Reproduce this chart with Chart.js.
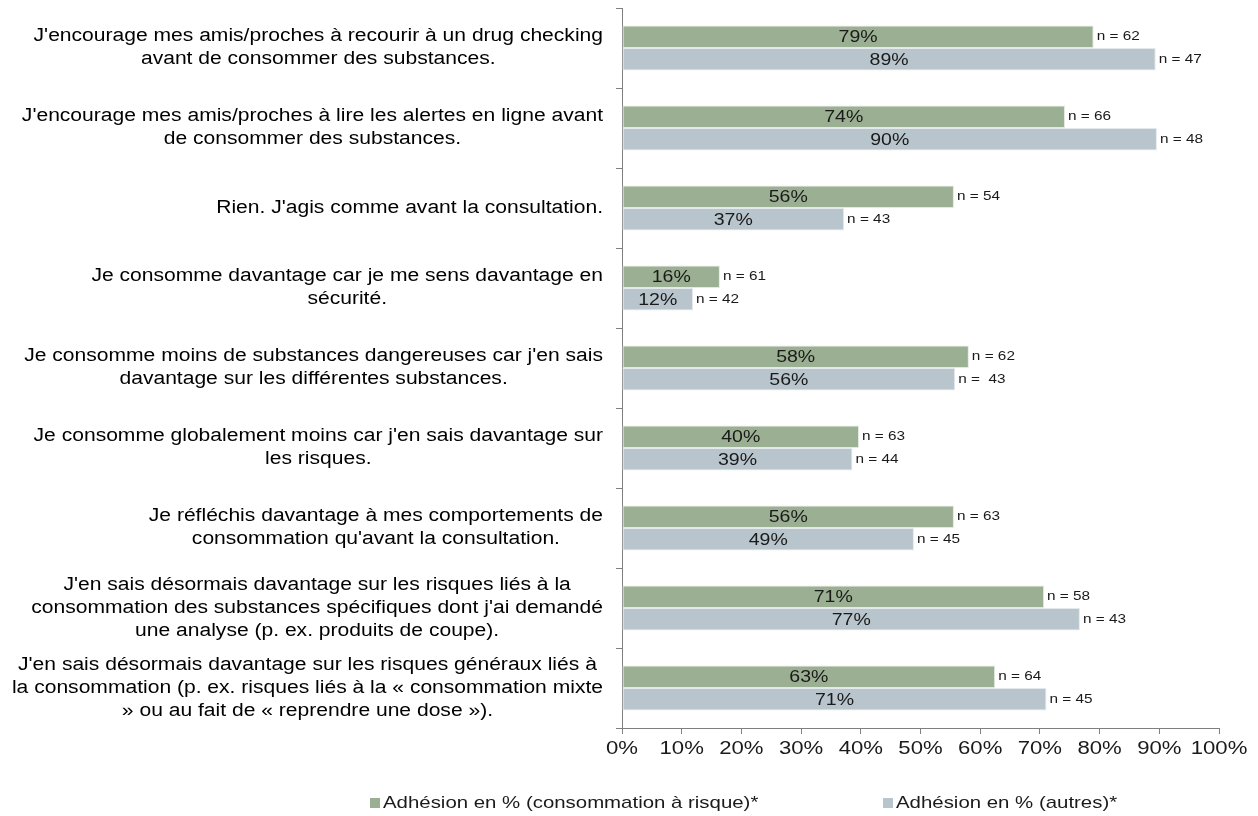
<!DOCTYPE html>
<html>
<head>
<meta charset="utf-8">
<script src="https://cdn.jsdelivr.net/npm/chart.js@4.4.1/dist/chart.umd.min.js"></script>
<style>
  html, body { margin: 0; padding: 0; background: #fff; }
  #wrap { width: 1258px; height: 816px; }
</style>
</head>
<body>
<div id="wrap"><canvas id="chart" width="1258" height="816"></canvas></div>
<script>
const categories = [
  ["J'encourage mes amis/proches à recourir à un drug checking", "avant de consommer des substances."],
  ["J'encourage mes amis/proches à lire les alertes en ligne avant", "de consommer des substances."],
  ["Rien. J'agis comme avant la consultation."],
  ["Je consomme davantage car je me sens davantage en", "sécurité."],
  ["Je consomme moins de substances dangereuses car j'en sais", "davantage sur les différentes substances."],
  ["Je consomme globalement moins car j'en sais davantage sur", "les risques."],
  ["Je réfléchis davantage à mes comportements de", "consommation qu'avant la consultation."],
  ["J'en sais désormais davantage sur les risques liés à la", "consommation des substances spécifiques dont j'ai demandé", "une analyse (p. ex. produits de coupe)."],
  ["J'en sais désormais davantage sur les risques généraux liés à", "la consommation (p. ex. risques liés à la « consommation mixte", "» ou au fait de « reprendre une dose »)."]
];

const riskValues = [79.0, 74.2, 55.6, 16.4, 58.1, 39.7, 55.6, 70.7, 62.5];
const otherValues = [89.4, 89.6, 37.2, 11.9, 55.8, 38.6, 48.9, 76.7, 71.1];
const riskN = ['n = 62', 'n = 66', 'n = 54', 'n = 61', 'n = 62', 'n = 63', 'n = 63', 'n = 58', 'n = 64'];
const otherN = ['n = 47', 'n = 48', 'n = 43', 'n = 42', 'n =  43', 'n = 44', 'n = 45', 'n = 43', 'n = 45'];
const seriesNames = ['Adhésion en % (consommation à risque)*', 'Adhésion en % (autres)*'];
const xTicks = [0, 10, 20, 30, 40, 50, 60, 70, 80, 90, 100];

const green = '#9baf93';
const grey = '#b9c5cc';
const axisColor = '#7f7f7f';
const FONT = '"Liberation Sans", Arial, sans-serif';

// the source text is a bit wider than Arial, so stretch it sideways
function wideText(ctx, text, x, y, sx) {
  ctx.save();
  ctx.translate(x, y);
  ctx.scale(sx, 1);
  ctx.fillText(text, 0, 0);
  ctx.restore();
}

const categoryLabels = {
  id: 'categoryLabels',
  afterDraw(chart) {
    const ctx = chart.ctx;
    const y = chart.scales.y;
    const right = chart.chartArea.left - 19;
    const sx = 1.17;
    const lh = 23;
    ctx.save();
    ctx.font = '18px ' + FONT;
    ctx.fillStyle = '#000';
    ctx.textAlign = 'center';
    ctx.textBaseline = 'middle';
    categories.forEach((lines, i) => {
      const w = Math.max(...lines.map(l => ctx.measureText(l).width)) * sx;
      const cx = right - w / 2;
      const cy = y.getPixelForValue(i);
      lines.forEach((l, k) => {
        wideText(ctx, l, cx, cy + (k - (lines.length - 1) / 2) * lh, sx);
      });
    });
    ctx.restore();
  }
};

const xLabels = {
  id: 'xLabels',
  afterDraw(chart) {
    const ctx = chart.ctx;
    const x = chart.scales.x;
    ctx.save();
    ctx.font = '18px ' + FONT;
    ctx.fillStyle = '#1a1a1a';
    ctx.textAlign = 'center';
    ctx.textBaseline = 'middle';
    xTicks.forEach(v => wideText(ctx, v + '%', x.getPixelForValue(v), chart.chartArea.bottom + 21, 1.23));
    ctx.restore();
  }
};

// percent inside each bar, sample size after its end
const barLabels = {
  id: 'barLabels',
  afterDatasetsDraw(chart) {
    const ctx = chart.ctx;
    const nLabels = [riskN, otherN];
    ctx.save();
    ctx.fillStyle = '#1a1a1a';
    ctx.textBaseline = 'middle';
    chart.data.datasets.forEach((ds, d) => {
      chart.getDatasetMeta(d).data.forEach((bar, i) => {
        ctx.font = '16px ' + FONT;
        ctx.textAlign = 'center';
        wideText(ctx, Math.round(ds.data[i]) + '%', (bar.base + bar.x) / 2, bar.y + 1, 1.22);
        ctx.font = '13px ' + FONT;
        ctx.textAlign = 'left';
        wideText(ctx, nLabels[d][i], bar.x + 3, bar.y, 1.18);
      });
    });
    ctx.restore();
  }
};

const bottomLegend = {
  id: 'bottomLegend',
  afterDraw(chart) {
    const ctx = chart.ctx;
    const colors = [green, grey];
    const xs = [370, 883];
    const yy = 803;
    ctx.save();
    ctx.font = '17px ' + FONT;
    ctx.textBaseline = 'middle';
    ctx.textAlign = 'left';
    seriesNames.forEach((name, i) => {
      ctx.fillStyle = colors[i];
      ctx.fillRect(xs[i], yy - 5, 10, 10);
      ctx.fillStyle = '#1a1a1a';
      wideText(ctx, name, xs[i] + 13, yy, 1.2);
    });
    ctx.restore();
  }
};

new Chart(document.getElementById('chart'), {
  type: 'bar',
  data: {
    labels: categories.map(c => c.join(' ')),
    datasets: [
      { label: seriesNames[0], data: riskValues, backgroundColor: green, borderColor: '#e3e9e1', borderWidth: 1, borderSkipped: false },
      { label: seriesNames[1], data: otherValues, backgroundColor: grey, borderColor: '#e4e9ec', borderWidth: 1, borderSkipped: false }
    ]
  },
  options: {
    indexAxis: 'y',
    responsive: false,
    animation: false,
    devicePixelRatio: 1,
    datasets: { bar: { categoryPercentage: 0.5625, barPercentage: 1 } },
    layout: { padding: { left: 616, top: 8, right: 39, bottom: 58 } },
    plugins: { legend: { display: false }, tooltip: { enabled: false } },
    scales: {
      y: {
        ticks: { display: false },
        grid: { drawOnChartArea: false, drawTicks: true, tickLength: 6, color: axisColor, offset: true },
        border: { color: axisColor, width: 1 },
        afterFit(scale) { scale.width = 6; }
      },
      x: {
        min: 0,
        max: 100,
        afterBuildTicks(scale) { scale.ticks = xTicks.map(v => ({ value: v })); },
        ticks: { display: false },
        grid: { drawOnChartArea: false, drawTicks: true, tickLength: 6, color: axisColor },
        border: { color: axisColor, width: 1 },
        afterFit(scale) { scale.height = 30; }
      }
    }
  },
  plugins: [categoryLabels, xLabels, barLabels, bottomLegend]
});
</script>
</body>
</html>
